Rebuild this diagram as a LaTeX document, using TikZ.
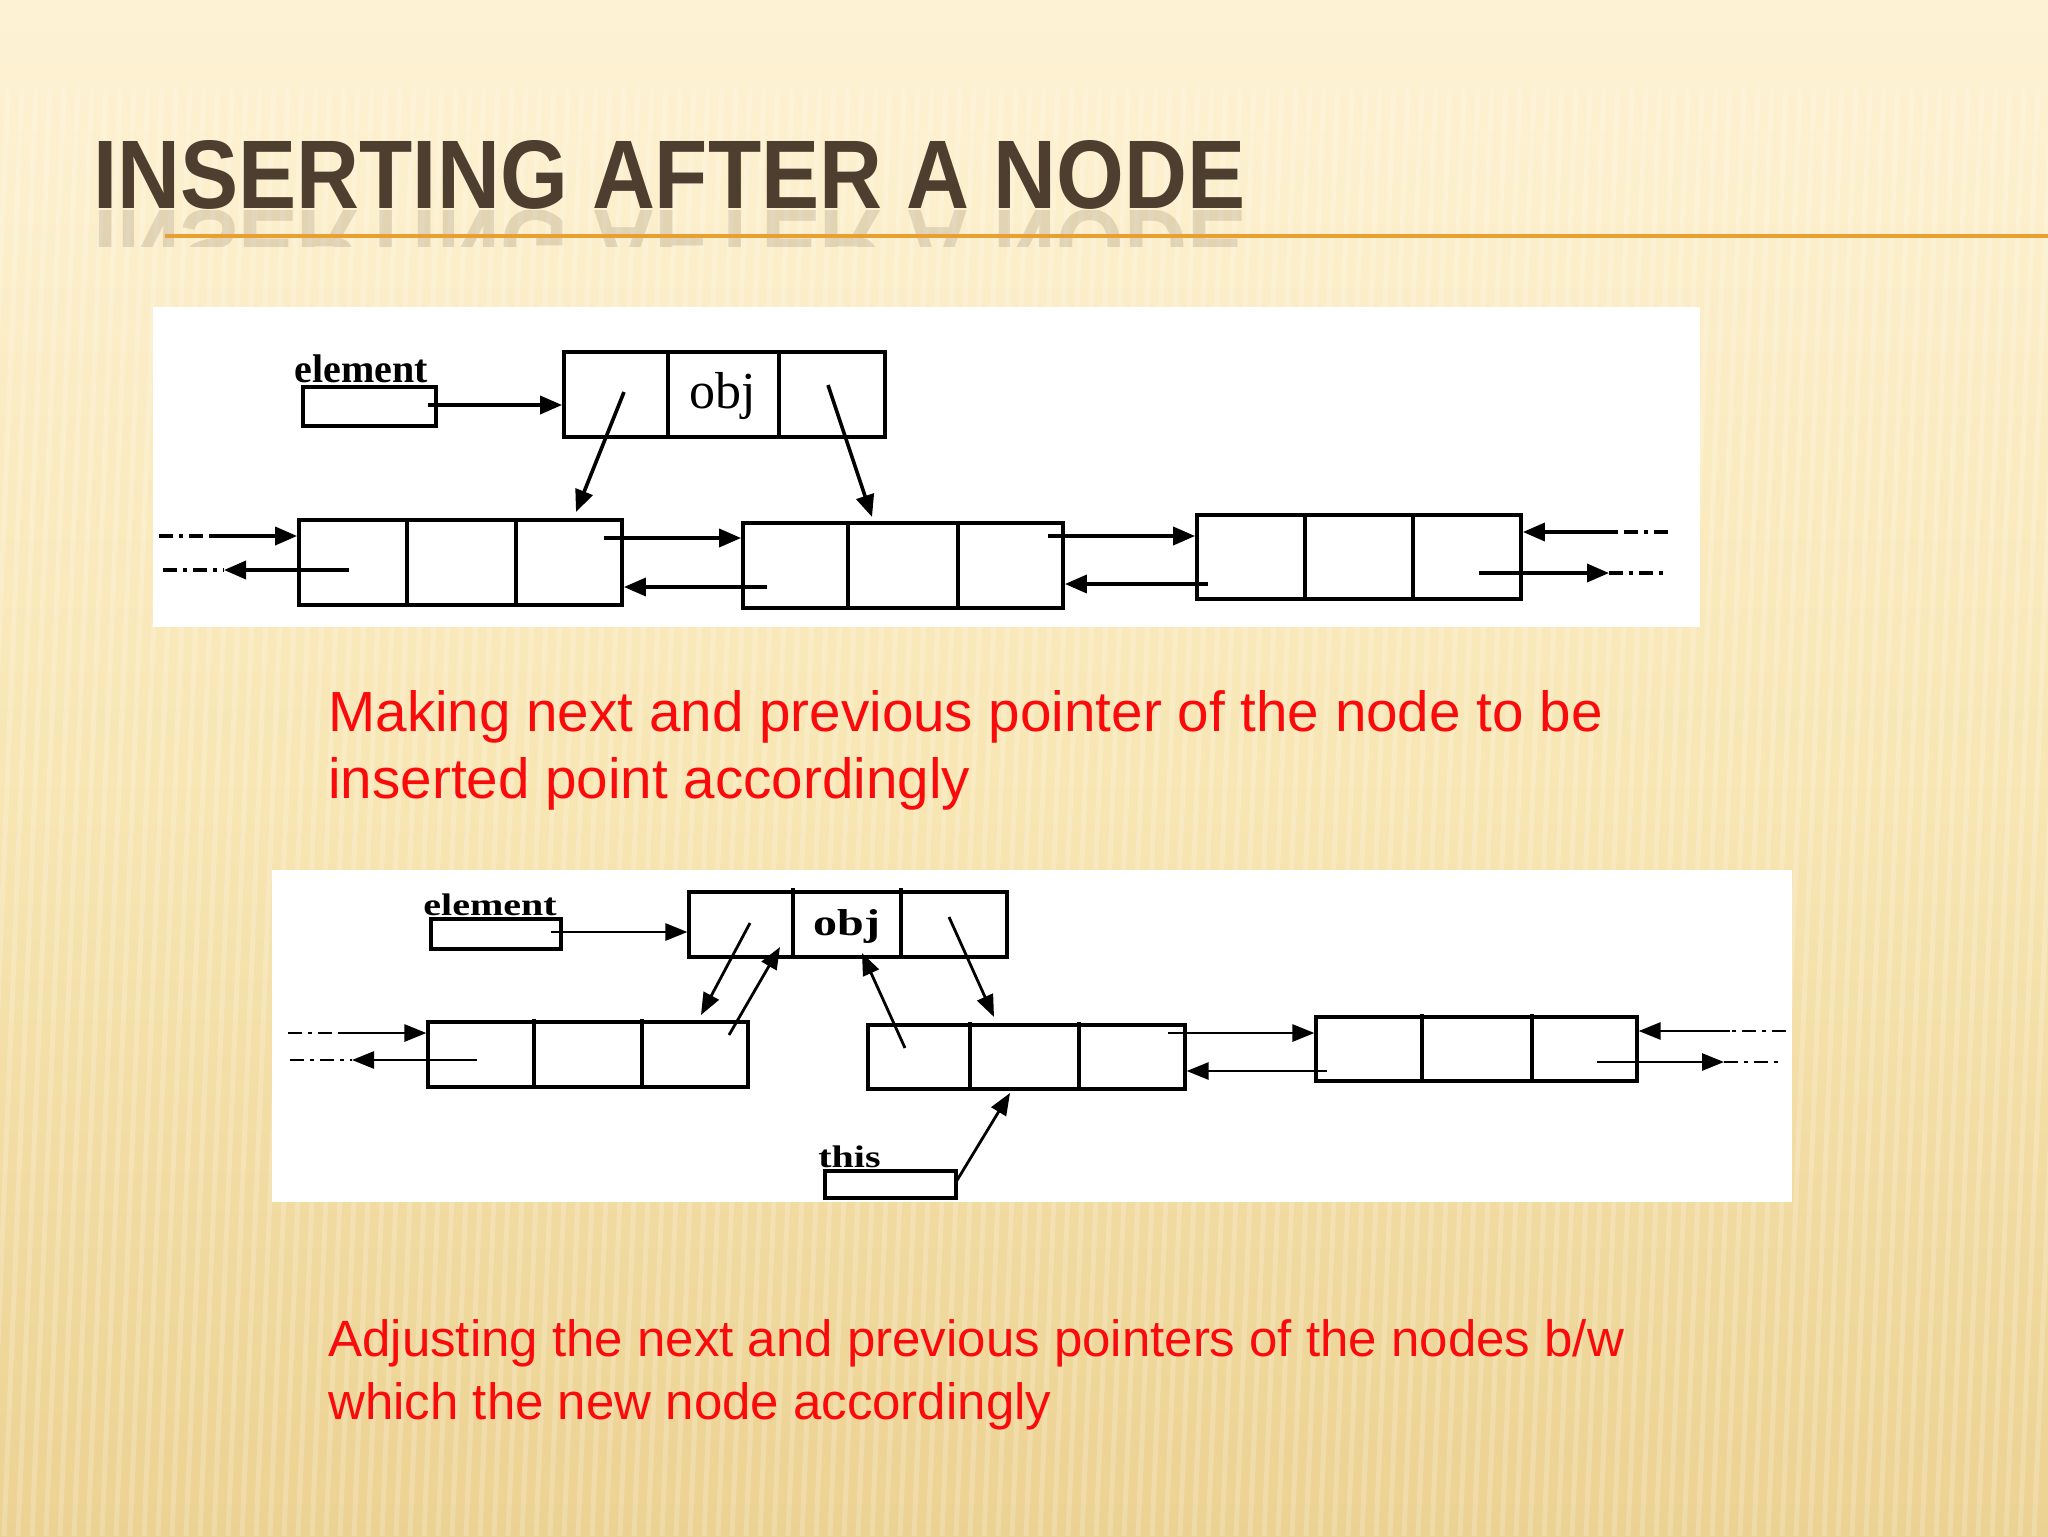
\documentclass[tikz,border=0pt]{standalone}
\usepackage{fontspec}
\setmainfont{Liberation Sans}
\newfontfamily\serifdia{Liberation Serif}
\usetikzlibrary{arrows.meta,fit}
\definecolor{titlebrown}{RGB}{78,62,47}
\definecolor{bgtop}{RGB}{253,242,212}
\definecolor{bgmid}{RGB}{248,230,180}
\definecolor{bgbot}{RGB}{236,210,146}
\definecolor{rulecol}{RGB}{232,160,50}
\definecolor{redtext}{RGB}{250,10,10}
\begin{document}
\begin{tikzpicture}[x=0.5pt,y=-0.5pt,
  cellbox/.style={draw=black, line width=1.9pt, inner sep=0pt},
  cellboxb/.style={draw=black, line width=1.6pt, inner sep=0pt},
  divline/.style={line width=1.9pt},
  divlineb/.style={line width=1.6pt},
  lnk/.style={line width=1.8pt, -{Triangle[length=11pt,width=9pt]}},
  lnkb/.style={line width=1.4pt, -{Triangle[length=11pt,width=8.5pt]}},
  dd/.style={line width=1.8pt, dash pattern=on 7pt off 3pt on 2pt off 3pt},
  ddb/.style={line width=1.4pt, dash pattern=on 7pt off 3pt on 2pt off 3pt},
  lbl/.style={font=\serifdia\bfseries\fontsize{20}{20}\selectfont, inner sep=0pt, anchor=base west},
  redtxt/.style={text=redtext, inner sep=0pt, anchor=base west}
]
\useasboundingbox (0,0) rectangle (2048,1536);
% ---------- background ----------
\shade[top color=bgtop, bottom color=bgbot, middle color=bgmid] (0,0) rectangle (2048,1536);
\fill[bgtop, opacity=0.6] (0,0) rectangle (2048,85);
\begin{scope}
\clip (0,88) rectangle (2048,1536);
\foreach \x in {-300,-286,...,2100} {
  \draw[white, opacity=0.2, line width=2.5pt] (\x,88) -- ({\x-60},1536);
}
\end{scope}
% ---------- title ----------
\node[anchor=base west, inner sep=0pt, text=titlebrown] (title) at (93,208)
  {\resizebox{576pt}{34pt}{\bfseries INSERTING AFTER A NODE}};
\begin{scope}
\clip (80,210) rectangle (1300,246);
\node[anchor=base west, inner sep=0pt, text=titlebrown, opacity=0.15] (titlerefl) at (93,210)
  {\scalebox{1}[-1]{\resizebox{576pt}{34pt}{\bfseries INSERTING AFTER A NODE}}};
\end{scope}
\draw[rulecol, line width=2pt] (165,236) -- (2048,236);

% ---------- diagram 1 ----------
\fill[white] (153,307) rectangle (1700,627);
\node[lbl] (lblA) at (294,382) {element};
\node[cellbox, fit={(303,387) (436,426)}] (elemA) {};
\node[cellbox, fit={(564,352) (885,437)}] (objA) {};
\draw[divline] (668,352) -- (668,437) (779,352) -- (779,437);
\node[font=\serifdia\fontsize{26}{26}\selectfont, inner sep=0pt] (objtxtA) at (723,396) {obj};
\node[cellbox, fit={(299,520) (622,605)}] (nA1) {};
\draw[divline] (407,520) -- (407,605) (516,520) -- (516,605);
\node[cellbox, fit={(743,523) (1063,608)}] (nA2) {};
\draw[divline] (848,523) -- (848,608) (958,523) -- (958,608);
\node[cellbox, fit={(1197,515) (1521,599)}] (nA3) {};
\draw[divline] (1305,515) -- (1305,599) (1413,515) -- (1413,599);

\coordinate (eA) at (428,405);
\draw[lnk] (eA) -- (objA.west |- eA);
\coordinate (oAl) at (624,392);
\coordinate (oAlt) at (576,512);
\draw[lnk] (oAl) -- (oAlt);
\coordinate (oAr) at (828,385);
\coordinate (oArt) at (872,517);
\draw[lnk] (oAr) -- (oArt);

\coordinate (lAin0) at (159,536);
\coordinate (lAin1) at (211,536);
\draw[dd] (lAin0) -- (lAin1);
\draw[lnk] (lAin1) -- (nA1.west |- lAin1);
\coordinate (lAout0) at (349,570);
\coordinate (lAout1) at (224,570);
\coordinate (lAout2) at (163,570);
\draw[lnk] (lAout0) -- (lAout1);
\draw[dd] (lAout2) -- (lAout1);

\coordinate (a12) at (604,538);
\draw[lnk] (a12) -- (nA2.west |- a12);
\coordinate (a21) at (767,587);
\draw[lnk] (a21) -- (nA1.east |- a21);
\coordinate (a23) at (1048,536);
\draw[lnk] (a23) -- (nA3.west |- a23);
\coordinate (a32) at (1208,584);
\draw[lnk] (a32) -- (nA2.east |- a32);

\coordinate (rAin0) at (1668,532);
\coordinate (rAin1) at (1614,532);
\draw[dd] (rAin0) -- (rAin1);
\draw[lnk] (rAin1) -- (nA3.east |- rAin1);
\coordinate (rAout0) at (1479,573);
\coordinate (rAout1) at (1609,573);
\coordinate (rAout2) at (1665,573);
\draw[lnk] (rAout0) -- (rAout1);
\draw[dd] (rAout1) -- (rAout2);

% ---------- text 1 ----------
\node[redtxt, font=\fontsize{28.3}{28.3}\selectfont] (t1a) at (328,731)
  {Making next and previous pointer of the node to be};
\node[redtxt, font=\fontsize{28.3}{28.3}\selectfont] (t1b) at (328,798)
  {inserted point accordingly};

% ---------- diagram 2 ----------
\fill[white] (272,870) rectangle (1792,1202);
\node[lbl] (lblB) at (423,915) {\scalebox{1}[0.78]{element}};
\node[cellboxb, fit={(431,919) (561,949)}] (elemB) {};
\node[cellboxb, fit={(689,892) (1007,957)}] (objB) {};
\draw[divlineb] (793,888) -- (793,957) (901,888) -- (901,957);
\node[font=\serifdia\bfseries\fontsize{24}{24}\selectfont, inner sep=0pt] (objtxtB) at (847,926) {\scalebox{1}[0.78]{obj}};
\node[cellboxb, fit={(428,1022) (748,1087)}] (nB1) {};
\draw[divlineb] (534,1019) -- (534,1087) (642,1019) -- (642,1087);
\node[cellboxb, fit={(868,1025) (1185,1089)}] (nB2) {};
\draw[divlineb] (970,1022) -- (970,1089) (1079,1022) -- (1079,1089);
\node[cellboxb, fit={(1316,1017) (1637,1081)}] (nB3) {};
\draw[divlineb] (1422,1014) -- (1422,1081) (1532,1014) -- (1532,1081);
\node[lbl] (lblThis) at (818,1167) {\scalebox{1}[0.78]{this}};
\node[cellboxb, fit={(825,1171) (956,1198)}] (thisB) {};

\coordinate (eB) at (551,932);
\draw[lnkb] (eB) -- (objB.west |- eB);
\coordinate (oBl) at (750,923);
\coordinate (oBlt) at (701,1015);
\draw[lnkb] (oBl) -- (oBlt);
\coordinate (nB1p) at (729,1035);
\coordinate (nB1pt) at (780,947);
\draw[lnkb] (nB1p) -- (nB1pt);
\coordinate (nB2p) at (905,1048);
\coordinate (nB2pt) at (862,953);
\draw[lnkb] (nB2p) -- (nB2pt);
\coordinate (oBr) at (949,917);
\coordinate (oBrt) at (994,1017);
\draw[lnkb] (oBr) -- (oBrt);
\coordinate (thp) at (956,1182);
\coordinate (thpt) at (1010,1093);
\draw[lnkb] (thp) -- (thpt);

\coordinate (lBin0) at (288,1033);
\coordinate (lBin1) at (341,1033);
\draw[ddb] (lBin0) -- (lBin1);
\draw[lnkb] (lBin1) -- (nB1.west |- lBin1);
\coordinate (lBout0) at (477,1060);
\coordinate (lBout1) at (352,1060);
\coordinate (lBout2) at (290,1060);
\draw[lnkb] (lBout0) -- (lBout1);
\draw[ddb] (lBout2) -- (lBout1);

\coordinate (b23) at (1168,1033);
\draw[lnkb] (b23) -- (nB3.west |- b23);
\coordinate (b32) at (1327,1071);
\draw[lnkb] (b32) -- (nB2.east |- b32);

\coordinate (rBin0) at (1786,1031);
\coordinate (rBin1) at (1730,1031);
\draw[ddb] (rBin0) -- (rBin1);
\draw[lnkb] (rBin1) -- (nB3.east |- rBin1);
\coordinate (rBout0) at (1597,1062);
\coordinate (rBout1) at (1724,1062);
\coordinate (rBout2) at (1783,1062);
\draw[lnkb] (rBout0) -- (rBout1);
\draw[ddb] (rBout1) -- (rBout2);

% ---------- text 2 ----------
\node[redtxt, font=\fontsize{25.5}{25.5}\selectfont] (t2a) at (328,1356)
  {Adjusting the next and previous pointers of the nodes b/w};
\node[redtxt, font=\fontsize{25.5}{25.5}\selectfont] (t2b) at (328,1419)
  {which the new node accordingly};
\end{tikzpicture}
\end{document}
